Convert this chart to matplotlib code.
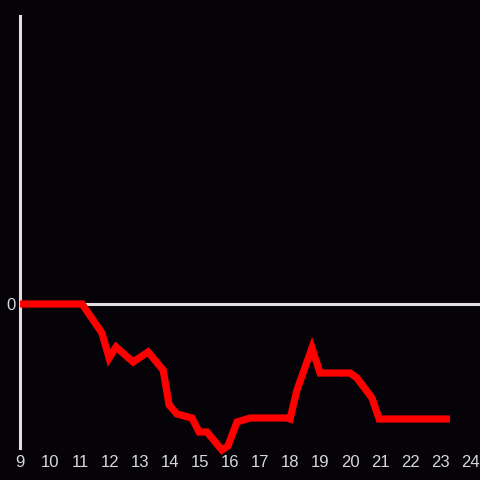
import matplotlib
matplotlib.use('Agg')
import matplotlib.pyplot as plt

hours = [9, 11.07, 11.73, 11.97, 12.2, 12.77, 13.27, 13.77, 13.97, 14.23, 14.73,
         14.97, 15.23, 15.73, 15.93, 16.23, 16.67, 17.9, 18.0, 18.23, 18.73,
         19.0, 20.0, 20.23, 20.73, 20.97, 23.33]
values = [0, 0, -2.9, -5.4, -4.3, -5.8, -4.8, -6.6, -10.1, -11.0, -11.4,
          -12.8, -12.8, -14.6, -14.2, -11.8, -11.4, -11.4, -11.5, -8.6, -4.4,
          -6.9, -6.9, -7.4, -9.4, -11.5, -11.5]
xticks = list(range(9, 25))

plt.rcParams['font.family'] = ['Liberation Sans', 'DejaVu Sans']

bg = '#050307'
axis_col = '#e0e0e0'

fig = plt.figure(figsize=(4.8, 4.8), dpi=100, facecolor=bg)
ax = fig.add_axes([20/480, 32/480, 460/480, 432/480])
ax.set_facecolor(bg)

ax.axhline(0, color=axis_col, lw=2.2, zorder=1)
ax.plot(hours, values, color='#ff0000', lw=5.2, solid_joinstyle='miter',
        solid_capstyle='butt', clip_on=False, zorder=3)

ax.set_xlim(9, 24.33)
ax.set_ylim(-14.4, 28.8)
ax.set_xticks(xticks)
ax.set_xticklabels([str(t) for t in xticks])
ax.set_yticks([0])
ax.set_yticklabels(['0'])
ax.tick_params(length=0, colors='#d8d8d8', labelsize=12, pad=5)
ax.tick_params(axis='y', pad=3)
for name in ['top', 'right', 'bottom']:
    ax.spines[name].set_visible(False)
ax.spines['left'].set_color(axis_col)
ax.spines['left'].set_linewidth(2.2)

fig.savefig('out.png', dpi=100, facecolor=bg)
